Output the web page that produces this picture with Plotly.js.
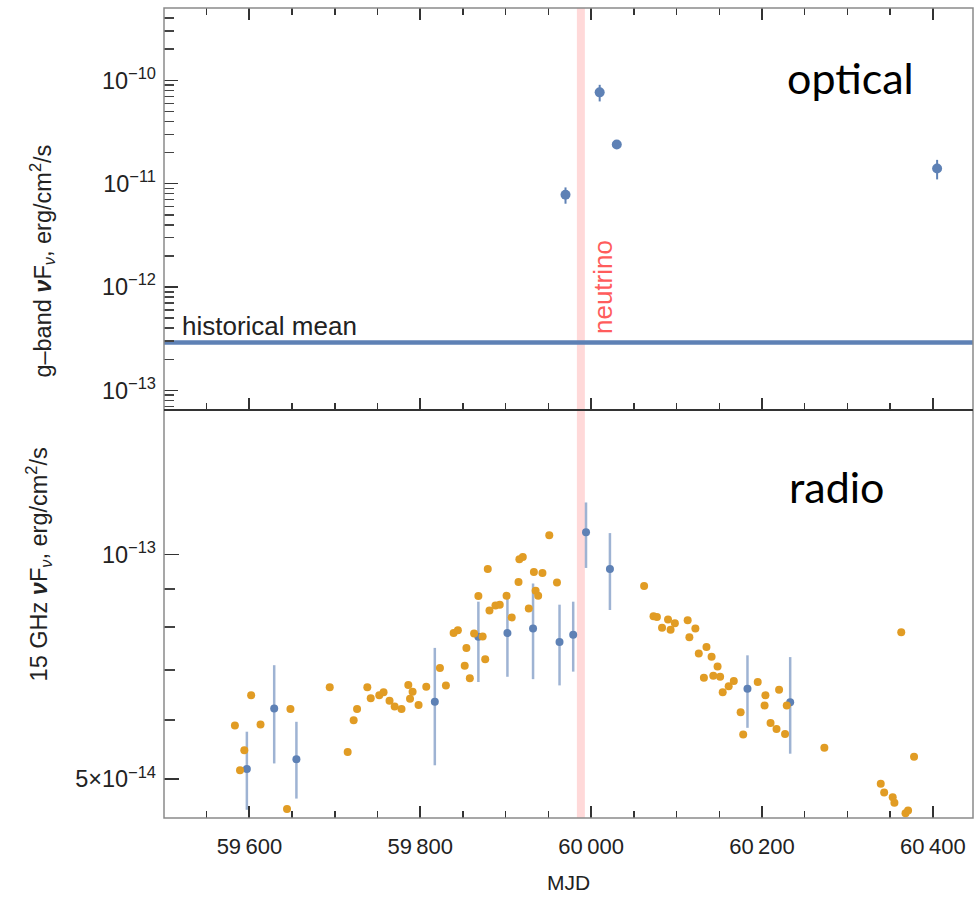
<!DOCTYPE html>
<html><head><meta charset="utf-8">
<script src="https://cdn.plot.ly/plotly-3.0.1.min.js"></script>
<style>body{margin:0;background:#fff}#chart{width:975px;height:898px}</style>
</head><body><div id="chart"></div>
<script>
// ---------- data ----------
const opticalMJD  = [59970, 60010, 60030, 60405];
const opticalFlux = [7.8e-12, 7.65e-11, 2.39e-11, 1.40e-11];
const opticalErr  = [1.4e-12, 1.4e-11, 1.0e-12, 3.0e-12];
const historicalMean = 2.9e-13;
const neutrinoMJD = 59988;

const ovroMJD = [59583,59589,59594,59602,59613,59644,59648,59694,59715,59722,59726,59738,59742,59752,59757,59764,59770,59778,59786,59788,59791,59798,59807,59823,59830,59839,59844,59852,59854,59858,59863,59868,59873,59876,59879,59881,59888,59893,59901,59907,59915,59916,59920,59927,59933,59935,59938,59943,59951,59960,60062,60073,60077,60083,60090,60093,60098,60113,60115,60122,60126,60132,60135,60141,60143,60148,60151,60154,60161,60167,60175,60178,60195,60203,60204,60210,60217,60220,60227,60229,60273,60339,60343,60353,60355,60363,60368,60371,60378];
const ovroFlux = [5.90e-14,5.14e-14,5.47e-14,6.48e-14,5.92e-14,4.56e-14,6.21e-14,6.64e-14,5.44e-14,6.00e-14,6.21e-14,6.64e-14,6.42e-14,6.48e-14,6.54e-14,6.37e-14,6.26e-14,6.21e-14,6.69e-14,6.41e-14,6.55e-14,6.29e-14,6.65e-14,7.05e-14,6.68e-14,7.85e-14,7.92e-14,7.10e-14,7.50e-14,6.83e-14,7.84e-14,8.80e-14,7.77e-14,7.24e-14,9.57e-14,8.42e-14,8.55e-14,8.57e-14,8.81e-14,8.24e-14,9.19e-14,9.86e-14,9.93e-14,8.47e-14,9.48e-14,8.95e-14,8.81e-14,9.45e-14,1.062e-13,9.18e-14,9.08e-14,8.27e-14,8.25e-14,7.98e-14,8.19e-14,7.93e-14,8.09e-14,8.17e-14,7.75e-14,7.96e-14,7.37e-14,6.84e-14,7.52e-14,7.30e-14,6.88e-14,7.08e-14,6.86e-14,6.54e-14,6.66e-14,6.77e-14,6.15e-14,5.74e-14,6.75e-14,6.28e-14,6.48e-14,5.95e-14,5.84e-14,6.59e-14,5.75e-14,6.28e-14,5.51e-14,4.93e-14,4.80e-14,4.73e-14,4.65e-14,7.87e-14,4.50e-14,4.54e-14,5.36e-14];

const radioMJD     = [59597, 59629, 59655, 59817, 59868, 59902, 59932, 59963, 59979, 59994, 60022, 60183, 60233];
const radioFlux    = [5.16e-14, 6.22e-14, 5.32e-14, 6.35e-14, 7.76e-14, 7.85e-14, 7.96e-14, 7.64e-14, 7.81e-14, 1.072e-13, 9.57e-14, 6.61e-14, 6.34e-14];
const radioErrUp   = [0.63e-14, 0.89e-14, 0.65e-14, 1.15e-14, 0.89e-14, 0.88e-14, 1.19e-14, 0.93e-14, 0.84e-14, 1.03e-14, 1.12e-14, 0.72e-14, 0.95e-14];
const radioErrDown = [0.61e-14, 0.97e-14, 0.61e-14, 1.13e-14, 1.01e-14, 0.99e-14, 1.15e-14, 0.96e-14, 0.84e-14, 1.12e-14, 1.14e-14, 0.75e-14, 0.93e-14];

const xTickVals  = [59600, 59800, 60000, 60200, 60400];
const xTickText  = ['59\u2009600', '59\u2009800', '60\u2009000', '60\u2009200', '60\u2009400'];
const xMinorVals = [59550, 59650, 59700, 59750, 59850, 59900, 59950, 60050, 60100, 60150, 60250, 60300, 60350, 60450];

const yTopTickVals = [1e-13, 1e-12, 1e-11, 1e-10];
const yTopTickText = ['10<sup>\u221213</sup>', '10<sup>\u221212</sup>', '10<sup>\u221211</sup>', '10<sup>\u221210</sup>'];
const yTopMinorVals = [7e-14, 8e-14, 9e-14,
                       2e-13,3e-13,4e-13,5e-13,6e-13,7e-13,8e-13,9e-13,
                       2e-12,3e-12,4e-12,5e-12,6e-12,7e-12,8e-12,9e-12,
                       2e-11,3e-11,4e-11,5e-11,6e-11,7e-11,8e-11,9e-11,
                       2e-10,3e-10,4e-10,5e-10];
const yBotTickVals = [5e-14, 1e-13];
const yBotTickText = ['5\u00d710<sup>\u221214</sup>', '10<sup>\u221213</sup>'];
const yBotMinorVals = [6e-14, 7e-14, 8e-14, 9e-14];

// ---------- style ----------
const BLUE = '#5e81b5', ORANGE = '#e19c24';
const FONT = 'Liberation Sans, Arial, sans-serif';
const split = 0.5037;

const traces = [
  {x: opticalMJD, y: opticalFlux, xaxis: 'x', yaxis: 'y', type: 'scatter', mode: 'markers',
   marker: {color: BLUE, size: 10},
   error_y: {type: 'data', array: opticalErr, color: BLUE, thickness: 2, width: 0}},
  {x: radioMJD, y: radioFlux, xaxis: 'x2', yaxis: 'y2', type: 'scatter', mode: 'markers',
   marker: {color: BLUE, size: 8},
   error_y: {type: 'data', symmetric: false, array: radioErrUp, arrayminus: radioErrDown,
             color: 'rgba(94,129,181,0.6)', thickness: 2.5, width: 0}},
  {x: ovroMJD, y: ovroFlux, xaxis: 'x2', yaxis: 'y2', type: 'scatter', mode: 'markers',
   marker: {color: ORANGE, size: 8}}
];

const xCommon = {
  range: [59500, 60447], tickmode: 'array', tickvals: xTickVals, ticktext: xTickText,
  ticks: 'inside', ticklen: 12, tickwidth: 2, tickcolor: '#333',
  showline: false, showgrid: false, zeroline: false,
  minor: {tickmode: 'array', tickvals: xMinorVals, ticks: 'inside', ticklen: 7, tickwidth: 1.5, tickcolor: '#333', showgrid: false}
};

const layout = {
  width: 975, height: 898,
  margin: {l: 164, r: 2, t: 8, b: 80},
  paper_bgcolor: '#fff', plot_bgcolor: '#fff',
  showlegend: false,
  font: {family: FONT, size: 22, color: '#222'},
  xaxis: Object.assign({}, xCommon, {domain: [0, 1], anchor: 'y', showticklabels: false, mirror: 'allticks'}),
  xaxis2: Object.assign({}, xCommon, {domain: [0, 1], anchor: 'y2', showticklabels: true, mirror: false,
    ticklabelstandoff: 13, tickfont: {family: FONT, size: 22, color: '#222'}}),
  yaxis: {
    domain: [split, 1], anchor: 'x', type: 'log', range: [-13.19, -9.30],
    tickmode: 'array', tickvals: yTopTickVals, ticktext: yTopTickText,
    ticks: 'inside', ticklen: 14, tickwidth: 1.5, tickcolor: '#333',
    showline: false, showgrid: false, zeroline: false, ticklabelstandoff: 7,
    tickfont: {family: FONT, size: 23.5, color: '#222'},
    minor: {tickmode: 'array', tickvals: yTopMinorVals, ticks: 'inside', ticklen: 10, tickwidth: 1.5, tickcolor: '#444', showgrid: false}
  },
  yaxis2: {
    domain: [0, split], anchor: 'x2', type: 'log', range: [-13.353, -12.806],
    tickmode: 'array', tickvals: yBotTickVals, ticktext: yBotTickText,
    ticks: 'inside', ticklen: 15, tickwidth: 1.5, tickcolor: '#333',
    showline: false, showgrid: false, zeroline: false, ticklabelstandoff: 7,
    tickfont: {family: FONT, size: 23.5, color: '#222'},
    minor: {tickmode: 'array', tickvals: yBotMinorVals, ticks: 'inside', ticklen: 11, tickwidth: 1.5, tickcolor: '#444', showgrid: false}
  },
  shapes: [
    {type: 'line', xref: 'x', yref: 'paper', x0: neutrinoMJD, x1: neutrinoMJD, y0: 0, y1: 1,
     line: {color: 'rgba(255,170,170,0.45)', width: 8}, layer: 'below'},
    {type: 'line', xref: 'paper', yref: 'y', x0: 0, x1: 1, y0: historicalMean, y1: historicalMean,
     line: {color: BLUE, width: 4.5}, layer: 'below'},
    {type: 'rect', xref: 'paper', yref: 'paper', x0: 0, x1: 1, y0: 0, y1: 1,
     line: {color: '#8a8a8a', width: 1.5}, fillcolor: 'rgba(0,0,0,0)'},
    {type: 'line', xref: 'paper', yref: 'paper', x0: 0, x1: 1, y0: split, y1: split,
     line: {color: '#333', width: 2}}
  ],
  annotations: [
    {text: 'optical', xref: 'paper', yref: 'paper', x: 0.849, y: 0.914, xanchor: 'center', yanchor: 'middle',
     showarrow: false, font: {family: 'Lato, sans-serif', size: 43, color: '#000'}},
    {text: 'radio', xref: 'paper', yref: 'paper', x: 0.831, y: 0.409, xanchor: 'center', yanchor: 'middle',
     showarrow: false, font: {family: 'Lato, sans-serif', size: 43, color: '#000'}},
    {text: 'historical mean', xref: 'paper', yref: 'paper', x: 0.020, y: 0.607, xanchor: 'left', yanchor: 'middle',
     showarrow: false, font: {family: FONT, size: 26, color: '#222'}},
    {text: 'neutrino', xref: 'paper', yref: 'paper', x: 0.5427, y: 0.6556, xanchor: 'center', yanchor: 'middle',
     textangle: -90, showarrow: false, font: {family: FONT, size: 26, color: '#ff5c5c'}},
    {text: 'g\u2013band <b><i>\u03bd</i></b>F<sub><i>\u03bd</i></sub>, erg/cm<sup>2</sup>/s', xref: 'paper', yref: 'paper',
     x: -0.150, y: 0.6877, xanchor: 'center', yanchor: 'middle', textangle: -90, showarrow: false,
     font: {family: FONT, size: 23.5, color: '#222'}},
    {text: '15 GHz <b><i>\u03bd</i></b>F<sub><i>\u03bd</i></sub>, erg/cm<sup>2</sup>/s', xref: 'paper', yref: 'paper',
     x: -0.154, y: 0.3136, xanchor: 'center', yanchor: 'middle', textangle: -90, showarrow: false,
     font: {family: FONT, size: 23.5, color: '#222'}},
    {text: 'MJD', xref: 'paper', yref: 'paper', x: 0.5, y: -0.080, xanchor: 'center', yanchor: 'middle',
     showarrow: false, font: {family: FONT, size: 21, color: '#222'}}
  ]
};

Plotly.newPlot('chart', traces, layout, {displayModeBar: false, staticPlot: true});
</script>
</body></html>
